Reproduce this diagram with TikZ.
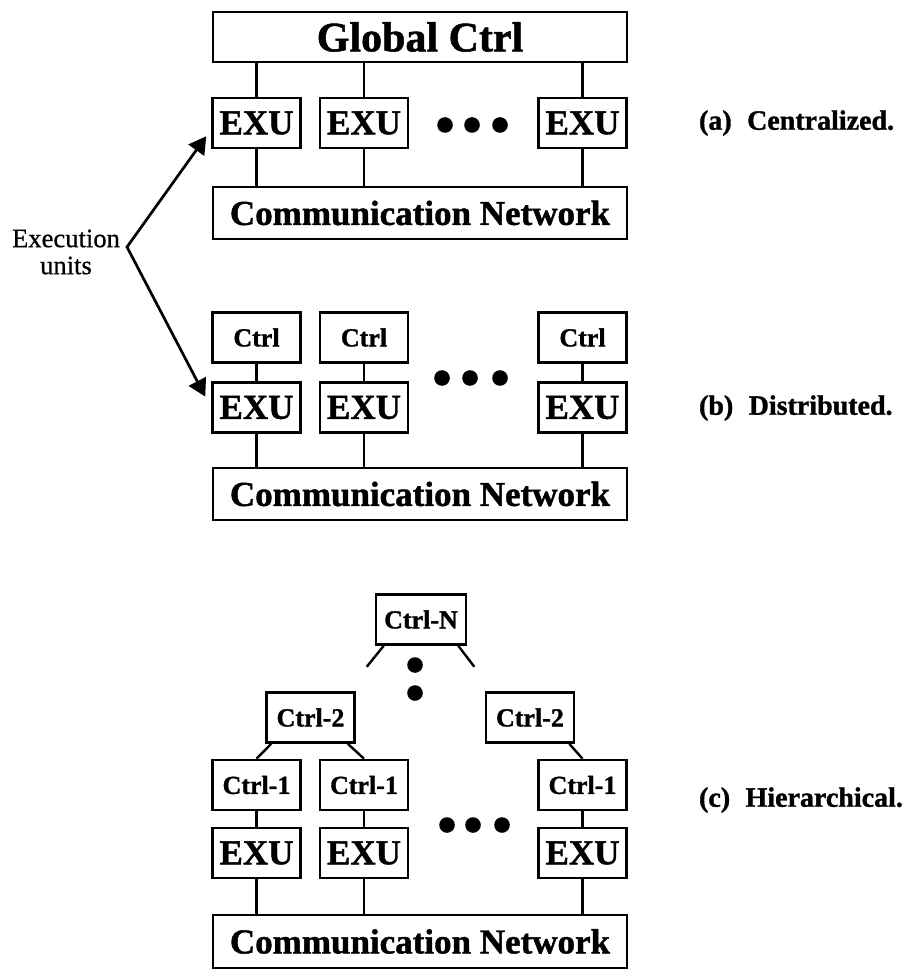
\documentclass[tikz,border=0pt]{standalone}
\usepackage{fontspec}
\setmainfont{Liberation Serif}[FakeBold=0.6,BoldFeatures={FakeBold=1.2}]
\usepackage{tikz}
\usetikzlibrary{calc,arrows}

\begin{document}
\begin{tikzpicture}[>=triangle 60,x=0.5pt,y=-0.5pt,
box/.style={draw,line width=1.3pt,inner sep=0pt,minimum width=44pt,minimum height=25pt},
exu/.style={box,font=\bfseries\fontsize{17.5}{19}\selectfont},
ctl/.style={box,font=\bfseries\fontsize{13}{15}\selectfont},
wide/.style={box,minimum width=207pt,minimum height=26pt,font=\bfseries\fontsize{17.5}{19}\selectfont},
caption/.style={anchor=west,font=\bfseries\fontsize{14}{16}\selectfont}]
\useasboundingbox (0,0) rectangle (910,972);
%
\node[wide,minimum height=25pt,font=\bfseries\fontsize{21}{23}\selectfont] (glob) at (420,37) {Global Ctrl};
\node[exu] (exua1) at (256.5,123) {EXU};
\node[exu] (exua2) at (364,123) {EXU};
\node[exu] (exua3) at (582.5,123) {EXU};
\node[wide] (comma) at (420,213) {Communication Network};
\node[caption] (capa) at (692,123) {(a)\hspace{0.55em}Centralized.};
%
\node[ctl] (ctrlb1) at (256.5,337.5) {Ctrl};
\node[ctl] (ctrlb2) at (364,337.5) {Ctrl};
\node[ctl] (ctrlb3) at (582.5,337.5) {Ctrl};
\node[exu] (exub1) at (256.5,407.5) {EXU};
\node[exu] (exub2) at (364,407.5) {EXU};
\node[exu] (exub3) at (582.5,407.5) {EXU};
\node[wide] (commb) at (420,494) {Communication Network};
\node[caption] (capb) at (692,408) {(b)\hspace{0.55em}Distributed.};
%
\node[ctl,minimum width=45pt] (ctrlN) at (421,619.5) {Ctrl-N};
\node[ctl] (ctrl2a) at (310.5,717.5) {Ctrl-2};
\node[ctl] (ctrl2b) at (530,717.5) {Ctrl-2};
\node[ctl] (ctrl1a) at (256.5,785) {Ctrl-1};
\node[ctl] (ctrl1b) at (364,785) {Ctrl-1};
\node[ctl] (ctrl1c) at (582.5,785) {Ctrl-1};
\node[exu] (exuc1) at (256.5,853) {EXU};
\node[exu] (exuc2) at (364,853) {EXU};
\node[exu] (exuc3) at (582.5,853) {EXU};
\node[wide,minimum height=26.5pt] (commc) at (420,941.5) {Communication Network};
\node[caption] (capc) at (692,800) {(c)\hspace{0.55em}Hierarchical.};
%
\node[align=center,font=\fontsize{13.3}{13.5}\selectfont] (exec) at (66,252) {Execution\\units};
\coordinate (fork) at (127,247);

\draw[line width=1.2pt]
          (exua1) edge (exua1 |- glob.south)
          (exua2) edge (exua2 |- glob.south)
          (exua3) edge (exua3 |- glob.south)
          (exua1) edge (exua1 |- comma.north)
          (exua2) edge (exua2 |- comma.north)
          (exua3) edge (exua3 |- comma.north)
          (ctrlb1) edge (exub1)
          (ctrlb2) edge (exub2)
          (ctrlb3) edge (exub3)
          (exub1) edge (exub1 |- commb.north)
          (exub2) edge (exub2 |- commb.north)
          (exub3) edge (exub3 |- commb.north)
          ($(ctrl2a.south west)+(6,0)$) edge (ctrl1a.north)
          ($(ctrl2a.south east)+(-8,0)$) edge (ctrl1b.north)
          ($(ctrl2b.south east)+(-6,0)$) edge (ctrl1c.north)
          (ctrl1a) edge (exuc1)
          (ctrl1b) edge (exuc2)
          (ctrl1c) edge (exuc3)
          (exuc1) edge (exuc1 |- commc.north)
          (exuc2) edge (exuc2 |- commc.north)
          (exuc3) edge (exuc3 |- commc.north)
;
\coordinate (stubl) at ($(ctrlN.south west)+(-8,21)$);
\coordinate (stubr) at ($(ctrlN.south east)+(7,21)$);
\draw[line width=1.2pt] ($(ctrlN.south west)+(9,0)$) -- (stubl)
                        ($(ctrlN.south east)+(-9,0)$) -- (stubr);
\draw[<->,line width=1.35pt] ($(exua1.south west)+(-5,-13)$) -- (fork) -- ($(exub1.west)+(-6,-11)$);
%
\foreach \x in {445,472,500} \fill (\x,125) circle[radius=3.9pt];
\foreach \x in {442,470,500} \fill (\x,378) circle[radius=3.9pt];
\foreach \x in {447,473,502} \fill (\x,825) circle[radius=3.9pt];
\foreach \y in {665,693} \fill (415,\y) circle[radius=3.9pt];
\end{tikzpicture}
\end{document}
